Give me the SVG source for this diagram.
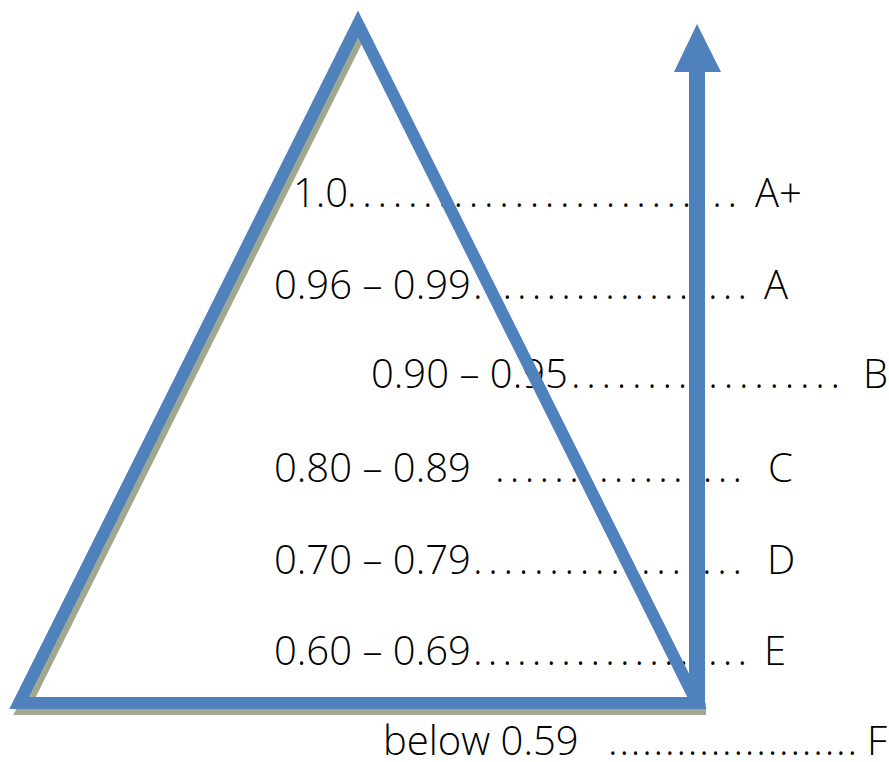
<svg xmlns="http://www.w3.org/2000/svg" width="889" height="762" viewBox="0 0 889 762">
<style>
text{font-family:"Open Sans","Noto Sans","Liberation Sans",sans-serif;font-size:40px;font-weight:300;fill:#000}
.blue{fill:none;stroke:#4F81BD;stroke-width:12;stroke-linejoin:miter;stroke-miterlimit:10}
.shadow{fill:none;stroke:#A0A88E;stroke-width:12;stroke-linejoin:miter;stroke-miterlimit:10}
</style>
<rect width="889" height="762" fill="#fff"/>
<g id="labels">
<g id="row-aplus"><text x="293" y="207">1.0</text><text x="347" y="207" textLength="390" lengthAdjust="spacing">..........................</text><text x="755" y="207">A+</text></g>
<g id="row-a"><text x="274" y="299">0.96 – 0.99</text><text x="473" y="299" textLength="274" lengthAdjust="spacing">...................</text><text x="764" y="299">A</text></g>
<g id="row-b"><text x="371" y="388">0.90 – 0.95</text><text x="571" y="388" textLength="269" lengthAdjust="spacing">..................</text><text x="863" y="388">B</text></g>
<g id="row-c"><text x="274" y="482">0.80 – 0.89</text><text x="495" y="482" textLength="247" lengthAdjust="spacing">.................</text><text x="768" y="482">C</text></g>
<g id="row-d"><text x="274" y="574">0.70 – 0.79</text><text x="473" y="574" textLength="269" lengthAdjust="spacing">..................</text><text x="767" y="574">D</text></g>
<g id="row-e"><text x="274" y="665">0.60 – 0.69</text><text x="473" y="665" textLength="274" lengthAdjust="spacing">...................</text><text x="764" y="665">E</text></g>
<g id="row-f"><text x="383" y="755">below 0.59</text><text x="608" y="755" textLength="249" lengthAdjust="spacing">......................</text><text x="867" y="755">F</text></g>
</g>
<g id="triangle">
<path class="shadow" d="M362,30 L23,709 L706,709"/>
<path class="blue" d="M358,24 L19,703 L697,703 Z"/>
</g>
<g id="arrow">
<rect x="689" y="68" width="16" height="641" fill="#4F81BD"/>
<polygon points="697,24 674,72 721,72" fill="#4F81BD"/>
</g>
</svg>
